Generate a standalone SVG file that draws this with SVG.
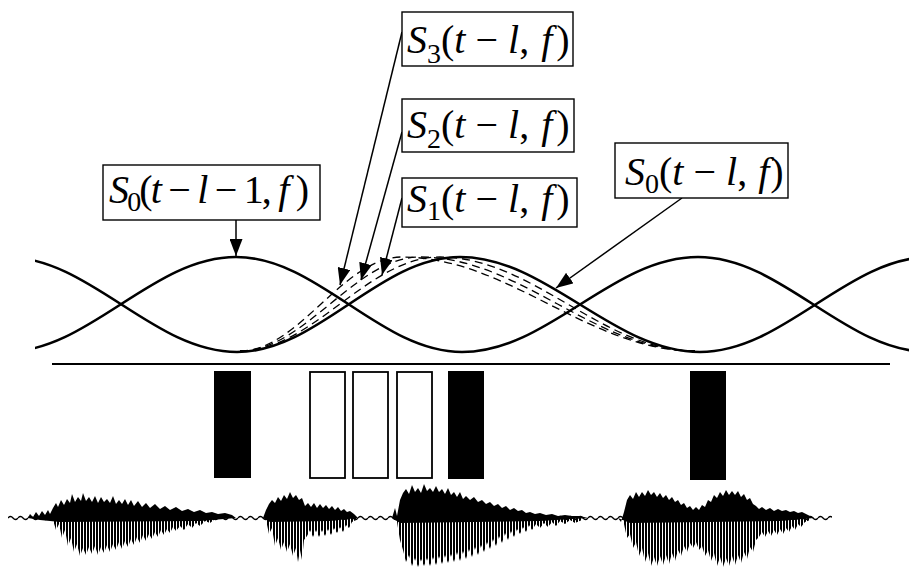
<svg xmlns="http://www.w3.org/2000/svg" width="909" height="569" viewBox="0 0 909 569">
<style>
.curve{fill:none;stroke:#000;stroke-width:2.6}
.dash{fill:none;stroke:#000;stroke-width:1.3;stroke-dasharray:8 5}
.box{fill:#fff;stroke:#000;stroke-width:1.4}
.lbl{font-family:"Liberation Serif","Times New Roman",serif;font-size:40px;fill:#000}
.i{font-style:italic}
.sub{font-size:28px}
.conn{stroke:#000;stroke-width:1.5;fill:none}
.blk{fill:#000}
.wht{fill:#fff;stroke:#000;stroke-width:1.8}
.solid{fill:#000}
.spk{fill:url(#stripes)}
</style>
<defs>
<marker id="ah" markerUnits="userSpaceOnUse" markerWidth="17" markerHeight="13" refX="17" refY="6.5" orient="auto"><path d="M0,0 L17,6.5 L0,13 z" fill="#000"/></marker>
<clipPath id="clipc"><rect x="35" y="200" width="874" height="200"/></clipPath>
<pattern id="stripes" patternUnits="userSpaceOnUse" width="3" height="10"><rect width="2" height="10" fill="#000"/></pattern>
<pattern id="wig" patternUnits="userSpaceOnUse" x="8" y="513" width="10" height="10"><path d="M0,5 Q2.5,2 5,5 T10,5" fill="none" stroke="#000" stroke-width="1.3"/></pattern>
</defs>
<rect width="909" height="569" fill="#fff"/>

<g id="curves" clip-path="url(#clipc)">
<path class="curve" d="M6,257 C90,257 153,352 237,352 C318,352 379,257 460,257 C547,257 613,352 700,352 C784,352 847,257 931,257"/>
<path class="curve" d="M5,352 C89,352 152,257 236,257 C318,257 380,352 462,352 C548,352 612,257 698,257 C782,257 845,352 929,352"/>
<path class="dash" d="M240,351 C313,351 367,257 440,257 C533,257 602,351 695,351"/>
<path class="dash" d="M240,351 C305,351 355,257 420,257 C520,257 595,351 695,351"/>
<path class="dash" d="M240,351 C299,351 343,257 402,257 C508,257 589,351 695,351"/>
</g>
<line x1="52" y1="364" x2="890" y2="364" stroke="#000" stroke-width="2"/>

<g id="bars">
<rect class="blk" x="214" y="371" width="37" height="107"/>
<rect class="wht" x="310" y="372" width="35" height="106"/>
<rect class="wht" x="353" y="372" width="35" height="106"/>
<rect class="wht" x="397" y="372" width="35" height="106"/>
<rect class="blk" x="448" y="371" width="36" height="108"/>
<rect class="blk" x="690" y="371" width="36" height="109"/>
</g>

<g id="waveform">
<rect x="8" y="513" width="824" height="10" fill="url(#wig)"/>
<polygon class="solid" points="28,518 30,514 33,517 36,512 39,516 42,511 45,515 48,510 50,514 53,508 56,503 58,507 61,500 64,505 67,499 70,503 72,494 75,502 78,497 81,501 83,493 86,501 89,497 92,502 95,496 98,503 101,497 104,502 107,499 110,503 113,496 116,504 119,500 122,504 125,499 128,505 131,500 134,506 138,501 142,507 146,503 150,508 155,504 160,509 165,506 170,510 176,507 182,511 188,509 194,512 200,510 206,513 212,512 218,514 225,513 232,515 236,518 200,521 60,522 40,520"/>
<polygon class="spk" points="53,516 215,516 215,519 210,523 205,521 200,526 196,523 192,528 188,524 184,530 180,526 176,531 173,527 170,533 167,529 164,535 161,530 158,537 155,532 152,539 149,534 146,541 143,535 140,543 137,537 134,545 131,539 128,547 125,541 122,549 119,542 116,550 113,544 110,552 107,545 104,553 101,547 98,555 95,546 92,554 89,547 86,555 83,548 80,556 77,544 74,552 71,538 68,546 65,530 62,538 59,524 56,530 53,520"/>
<polygon class="solid" points="263,518 266,510 269,504 272,500 275,503 278,497 281,501 284,495 287,499 290,492 293,498 296,495 299,500 302,498 305,506 308,503 311,507 314,503 317,508 320,504 323,508 326,505 329,509 332,506 335,510 338,507 341,511 344,509 347,512 350,511 354,514 358,518 330,521 270,522"/>
<polygon class="spk" points="266,516 356,516 356,520 352,522 349,528 346,525 343,532 340,527 337,533 334,528 331,535 328,529 325,536 322,530 319,537 316,530 313,537 310,530 307,536 304,540 302,560 300,550 298,562 296,548 293,556 290,544 287,552 284,542 281,550 278,538 275,546 272,528 269,534 266,520"/>
<polygon class="solid" points="392,518 395,508 397,516 400,500 403,493 406,489 409,494 412,485 415,492 418,488 421,493 424,484 427,491 430,488 433,492 436,486 439,492 442,489 445,494 448,488 451,495 454,492 457,497 460,492 463,499 466,496 470,500 474,497 478,502 482,500 486,504 490,502 494,506 498,504 502,508 506,506 510,510 514,508 518,511 522,510 526,513 530,512 535,514 540,513 546,515 552,514 558,516 565,515 572,516 580,516 588,518 540,521 400,523"/>
<polygon class="spk" points="397,516 582,516 582,520 575,523 570,520 565,524 560,521 556,526 552,522 548,527 544,523 540,528 536,524 532,530 529,525 526,532 523,527 520,534 517,529 514,537 511,531 508,540 505,533 502,543 499,536 496,546 493,539 490,549 487,542 484,552 481,545 478,555 475,547 472,557 469,549 466,559 463,551 460,561 457,552 454,562 451,554 448,563 445,555 442,564 439,556 436,565 433,557 430,566 427,558 424,566 421,559 418,567 415,558 412,566 409,555 406,562 403,550 400,540 397,522"/>
<polygon class="solid" points="618,518 621,522 624,512 627,500 630,495 633,499 636,492 639,497 642,492 645,496 648,490 651,495 654,492 657,497 660,493 663,498 666,495 669,500 672,497 675,502 678,500 681,505 684,503 687,508 690,506 693,510 696,507 699,510 702,505 705,507 708,500 711,502 714,495 717,498 720,492 723,496 726,490 729,495 732,491 735,495 738,491 741,497 744,494 747,500 750,498 753,504 756,506 759,509 762,507 766,510 770,508 774,511 778,509 782,511 786,510 790,512 794,511 798,513 802,512 806,514 810,516 814,518 780,521 630,523"/>
<polygon class="spk" points="624,516 810,516 810,520 805,522 801,527 798,524 795,530 792,526 789,532 786,528 783,534 780,529 777,535 774,530 771,536 768,531 765,537 762,532 759,537 756,540 753,552 750,547 747,559 744,552 741,563 738,555 735,565 732,556 729,566 726,558 723,567 720,557 717,566 714,553 711,561 708,550 705,556 702,546 699,550 696,542 693,548 690,543 687,552 684,546 681,556 678,550 675,561 672,553 669,564 666,555 663,565 660,556 657,566 654,557 651,566 648,553 645,562 642,548 639,556 636,542 633,548 630,534 627,538 624,524"/>
</g>

<g id="connectors">
<line class="conn" x1="236" y1="220" x2="236" y2="256" marker-end="url(#ah)"/>
<line class="conn" x1="402" y1="32" x2="340" y2="285" marker-end="url(#ah)"/>
<line class="conn" x1="402" y1="132" x2="361" y2="280" marker-end="url(#ah)"/>
<line class="conn" x1="402" y1="198" x2="382" y2="275" marker-end="url(#ah)"/>
<line class="conn" x1="682" y1="198" x2="556" y2="288" marker-end="url(#ah)"/>
</g>

<g id="label-s3">
<rect class="box" x="402" y="12" width="171" height="54"/>
<text class="lbl" x="407" y="53"><tspan class="i">S</tspan><tspan class="sub" dy="10">3</tspan><tspan dy="-10">(</tspan><tspan class="i">t</tspan> − <tspan class="i">l</tspan>, <tspan class="i" dx="2">f</tspan><tspan dx="4">)</tspan></text>
</g>
<g id="label-s2">
<rect class="box" x="402" y="99" width="172" height="53"/>
<text class="lbl" x="407" y="138"><tspan class="i">S</tspan><tspan class="sub" dy="10">2</tspan><tspan dy="-10">(</tspan><tspan class="i">t</tspan> − <tspan class="i">l</tspan>, <tspan class="i" dx="2">f</tspan><tspan dx="4">)</tspan></text>
</g>
<g id="label-s1">
<rect class="box" x="402" y="178" width="175" height="49"/>
<text class="lbl" x="407" y="212"><tspan class="i">S</tspan><tspan class="sub" dy="8">1</tspan><tspan dy="-8">(</tspan><tspan class="i">t</tspan> − <tspan class="i">l</tspan>, <tspan class="i" dx="2">f</tspan><tspan dx="4">)</tspan></text>
</g>
<g id="label-s0-prev">
<rect class="box" x="103" y="165" width="217" height="55"/>
<text class="lbl" x="109" y="203" textLength="200" lengthAdjust="spacing"><tspan class="i">S</tspan><tspan class="sub" dy="8">0</tspan><tspan dy="-8">(</tspan><tspan class="i">t</tspan> − <tspan class="i">l</tspan> − 1, <tspan class="i">f</tspan> )</text>
</g>
<g id="label-s0">
<rect class="box" x="615" y="143" width="173" height="55"/>
<text class="lbl" x="625" y="185"><tspan class="i">S</tspan><tspan class="sub" dy="8">0</tspan><tspan dy="-8">(</tspan><tspan class="i">t</tspan> − <tspan class="i">l</tspan>, <tspan class="i" dx="1">f</tspan><tspan dx="1">)</tspan></text>
</g>
</svg>
